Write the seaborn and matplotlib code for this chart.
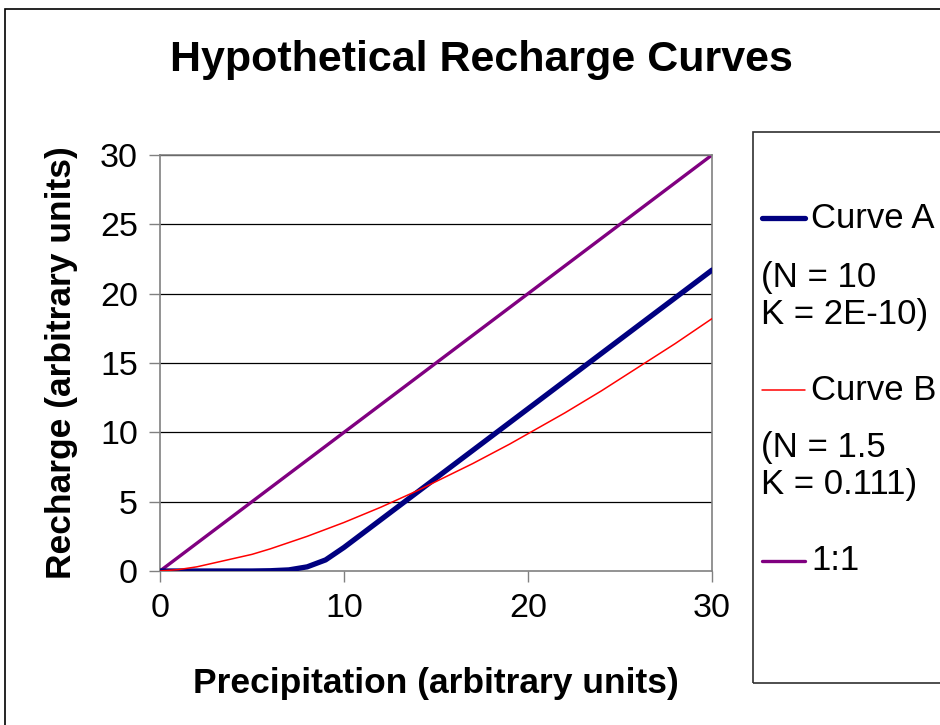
import matplotlib
matplotlib.use("Agg")
import matplotlib.pyplot as plt
import seaborn as sns
import pandas as pd
from matplotlib.lines import Line2D
from matplotlib.patches import Rectangle

# values
precip = list(range(0, 31))
curve_a = [0, 0, 0, 0, 0, 0, 0.02, 0.08, 0.3, 0.8, 1.7,
           2.7, 3.7, 4.7, 5.7, 6.7, 7.7, 8.7, 9.7, 10.7, 11.7,
           12.7, 13.7, 14.7, 15.7, 16.7, 17.7, 18.7, 19.7, 20.7, 21.7]
curve_b = [0, 0.1, 0.3, 0.6, 0.9, 1.2, 1.6, 2.05, 2.5, 3.0, 3.5,
           4.05, 4.6, 5.2, 5.8, 6.45, 7.1, 7.75, 8.45, 9.15, 9.9,
           10.65, 11.4, 12.2, 13.0, 13.85, 14.7, 15.55, 16.4, 17.3, 18.2]
one_to_one = [0, 30]
one_to_one_x = [0, 30]
x_ticks = [0, 10, 20, 30]
y_ticks = [0, 5, 10, 15, 20, 25, 30]

sns.set_style("white")
plt.rcParams['font.family'] = ['Liberation Sans', 'DejaVu Sans']
plt.rcParams['text.color'] = 'black'
plt.rcParams['axes.labelcolor'] = 'black'
plt.rcParams['xtick.color'] = 'black'
plt.rcParams['ytick.color'] = 'black'

df = pd.DataFrame({"precip": precip, "a": curve_a, "b": curve_b})
df11 = pd.DataFrame({"precip": one_to_one_x, "r": one_to_one})

fig = plt.figure(figsize=(9.4, 7.25), dpi=100)
ax = fig.add_axes([160 / 940, 1 - 571 / 725, (712 - 160) / 940, (571 - 155) / 725])

for y in y_ticks[1:]:
    ax.axhline(y, color="black", lw=0.9, zorder=0)

sns.lineplot(data=df, x="precip", y="a", ax=ax, color="#000080", lw=3.8, zorder=3)
sns.lineplot(data=df, x="precip", y="b", ax=ax, color="#FF0000", lw=1.1, zorder=4)
sns.lineplot(data=df11, x="precip", y="r", ax=ax, color="#800080", lw=2.4, zorder=2)

ax.set_xlim(0, 30)
ax.set_ylim(0, 30)
ax.set_xticks(x_ticks)
ax.set_yticks(y_ticks)
ax.tick_params(axis="both", direction="out", length=8, width=1, color="#808080",
               labelcolor="black", labelsize=24.5, pad=8, bottom=True, left=True)
for side in ax.spines.values():
    side.set_color("#808080")
    side.set_linewidth(1.2)

ax.set_xlabel("Precipitation (arbitrary units)", fontsize=25.5, fontweight="bold",
              labelpad=31, color="black")
ax.set_ylabel("Recharge (arbitrary units)", fontsize=25.5, fontweight="bold",
              labelpad=16, color="black")
fig.text(481 / 940, 1 - 60 / 725, "Hypothetical Recharge Curves", fontsize=31,
         fontweight="bold", ha="center", va="center", color="black")

# outer chart border (only left and top visible)
fig.patches.append(Rectangle((5 / 940, -0.2), 1.2, 1 - 9 / 725 + 0.2, transform=fig.transFigure,
                             fill=False, edgecolor="black", lw=1.2))

# legend box and entries
fig.patches.append(Rectangle((753 / 940, 1 - 683 / 725), 0.4, (683 - 132) / 725,
                             transform=fig.transFigure, fill=False, edgecolor="#303030", lw=1.2))
entries = [
    (218, "#000080", 3.8, "Curve A"),
    (390, "#FF0000", 1.1, "Curve B"),
    (561, "#800080", 2.4, "1:1"),
]
for ypix, col, lw, label in entries:
    yf = 1 - ypix / 725
    fig.add_artist(Line2D([762 / 940, 805 / 940], [yf, yf], color=col, lw=lw,
                          transform=fig.transFigure))
    fig.text(811 / 940, yf, label, fontsize=25, ha="left", va="center")
fig.text(761 / 940, 1 - 296 / 725, "(N = 10\nK = 2E-10)", fontsize=25, ha="left",
         va="center", linespacing=1.13)
fig.text(761 / 940, 1 - 466 / 725, "(N = 1.5\nK = 0.111)", fontsize=25, ha="left",
         va="center", linespacing=1.13)

fig.savefig("out.png", dpi=100)
